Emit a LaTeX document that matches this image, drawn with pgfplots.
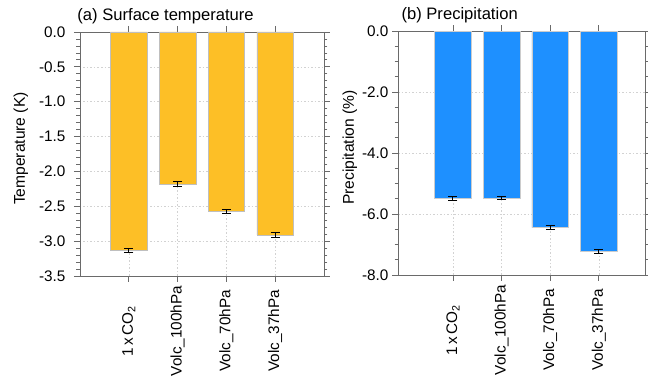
\documentclass[border=0pt]{standalone}
\usepackage{pgfplots}
\pgfplotsset{compat=1.18}
\usepackage{fontspec}
\setmainfont{Liberation Sans}
\definecolor{barorange}{HTML}{FDBF26}
\definecolor{barblue}{HTML}{1E90FF}
\definecolor{axgray}{HTML}{6A6A6A}
\pgfplotsset{
  myaxis/.style={
    scale only axis,
    height=244pt,
    axis line style={axgray, line width=0.9pt},
    tick style={axgray, line width=0.8pt},
    major tick length=6pt,
    minor tick length=3.5pt,
    tick align=outside,
    xtick pos=both, ytick pos=both,
    xmin=-1, xmax=4,
    xtick={0,1,2,3},
    xticklabels={1\,x\,CO\textsubscript{2}, Volc\_100hPa, Volc\_70hPa, Volc\_37hPa},
    xticklabel style={rotate=90, anchor=center, xshift=-49pt},
    xmajorgrids, ymajorgrids,
    grid style={gray!35, line width=0.5pt, dash pattern=on 1.5pt off 2pt},
    tick label style={font=\fontsize{15.3}{17}\selectfont},
    label style={font=\fontsize{15.6}{17}\selectfont},
    /pgf/number format/assume math mode=true,
    yticklabel style={/pgf/number format/fixed, /pgf/number format/fixed zerofill, /pgf/number format/precision=1},
    ybar, bar width=0.75, bar shift=0pt,
    title style={font=\fontsize{16.6}{18}\selectfont, anchor=base west},
    clip=false,
  },
  myerr/.style={error bars/.cd, y dir=both, y explicit,
    error bar style={black, line width=0.9pt},
    error mark options={rotate=90, mark size=4.5pt, black, line width=0.9pt}},
}
\begin{document}
\begin{tikzpicture}
\useasboundingbox (0,0) rectangle (648pt,382pt);
\begin{axis}[myaxis,
  at={(80pt,106pt)}, anchor=south west,
  width=244pt,
  ymin=-3.5, ymax=0,
  ytick={-3.5,-3,...,0},
  minor y tick num=4,
  yticklabel style={xshift=-5pt},
  ylabel={Temperature (K)},
  ylabel style={at={(axis description cs:-0.242,0.522)}, anchor=center},
  title={(a) Surface temperature},
  title style={at={(axis description cs:-0.025,1.024)}},
]
\addplot[fill=barorange, draw=black!25, line width=0.6pt, myerr]
  coordinates {(0,-3.13) +- (0,0.03) (1,-2.18) +- (0,0.03) (2,-2.57) +- (0,0.03) (3,-2.91) +- (0,0.03)};
\end{axis}
\begin{axis}[myaxis,
  at={(398pt,107pt)}, anchor=south west,
  width=247pt,
  xmin=-1.13, xmax=3.95,
  ymin=-8, ymax=0,
  ytick={-8,-6,...,0},
  minor y tick num=3,
  ylabel={Precipitation (\%)},
  ylabel style={at={(axis description cs:-0.195,0.522)}, anchor=center},
  title={(b) Precipitation},
  title style={at={(axis description cs:0,1.024)}},
]
\addplot[fill=barblue, draw=black!20, line width=0.6pt, myerr]
  coordinates {(0,-5.50) +- (0,0.06) (1,-5.47) +- (0,0.06) (2,-6.45) +- (0,0.06) (3,-7.23) +- (0,0.06)};
\end{axis}
\end{tikzpicture}
\end{document}
